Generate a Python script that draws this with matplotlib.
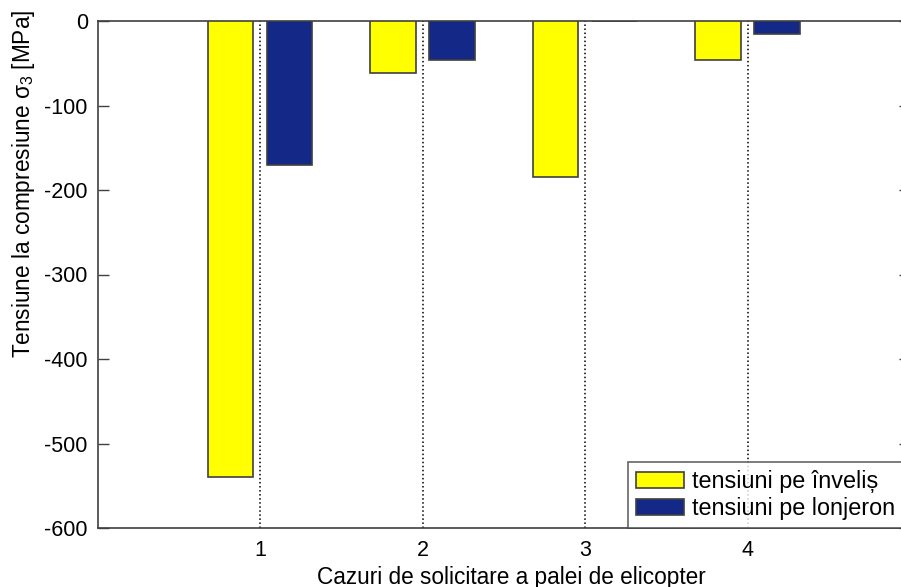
# Grouped bar chart: compressive stress per load case (skin vs spar)

import matplotlib
matplotlib.use('Agg')
import matplotlib.pyplot as plt
import numpy as np

plt.rcParams['font.family'] = ['Liberation Sans', 'DejaVu Sans']
plt.rcParams['mathtext.fontset'] = 'custom'
plt.rcParams['mathtext.rm'] = 'Liberation Sans'
plt.rcParams['mathtext.it'] = 'Liberation Sans'
plt.rcParams['axes.unicode_minus'] = False

# data
cases = [1, 2, 3, 4]
skin_stress = [-540, -62, -185, -46]     # tensiuni pe înveliș
spar_stress = [-170, -46, 0, -15]        # tensiuni pe lonjeron
series_labels = ['tensiuni pe înveliș', 'tensiuni pe lonjeron']
y_ticks = [0, -100, -200, -300, -400, -500, -600]

edge = '#404040'
fig = plt.figure(figsize=(9.01, 5.87), dpi=100)
ax = fig.add_axes([97.5 / 901, 59 / 587, 812.5 / 901, 507 / 587])

x = np.array(cases)
width = 0.28
ax.bar(x - 0.182, skin_stress, width, color='#FFFF00', edgecolor=edge,
       linewidth=1.2, label=series_labels[0], zorder=3)
ax.bar(x + 0.182, spar_stress, width, color='#142887', edgecolor=edge,
       linewidth=1.2, label=series_labels[1], zorder=3)

ax.set_xlim(0, 5)
ax.set_ylim(-600, 0)
ax.set_xticks(cases)
ax.set_yticks(y_ticks)
ax.tick_params(direction='in', length=8, width=1, color=edge, labelsize=15.5,
               top=True, right=True, pad=7)
ax.tick_params(axis='x', length=0, pad=9)
ax.xaxis.grid(True, linestyle=':', color='black', linewidth=1.1, zorder=1)
for s in ax.spines.values():
    s.set_color(edge)
    s.set_linewidth(1.2)

ax.set_xlabel('Cazuri de solicitare a palei de elicopter', fontsize=16.3, labelpad=3)
ax.xaxis.label.set_x(0.51)
ax.set_ylabel(r'Tensiune la compresiune $\sigma_{3}$ [MPa]', fontsize=16.3, labelpad=5)
ax.yaxis.label.set_y(0.678)

leg = ax.legend(loc='lower left', bbox_to_anchor=((628 - 97.5) / 812.5, 0),
                fontsize=16.8, borderaxespad=0, fancybox=False,
                frameon=True, handlelength=2.05, handleheight=0.72,
                handletextpad=0.35, labelspacing=0.18, borderpad=0.33)
leg.get_frame().set_edgecolor(edge)
leg.get_frame().set_linewidth(1.2)
for h in leg.legend_handles:
    h.set_edgecolor(edge)

fig.savefig('out.png', dpi=100)
